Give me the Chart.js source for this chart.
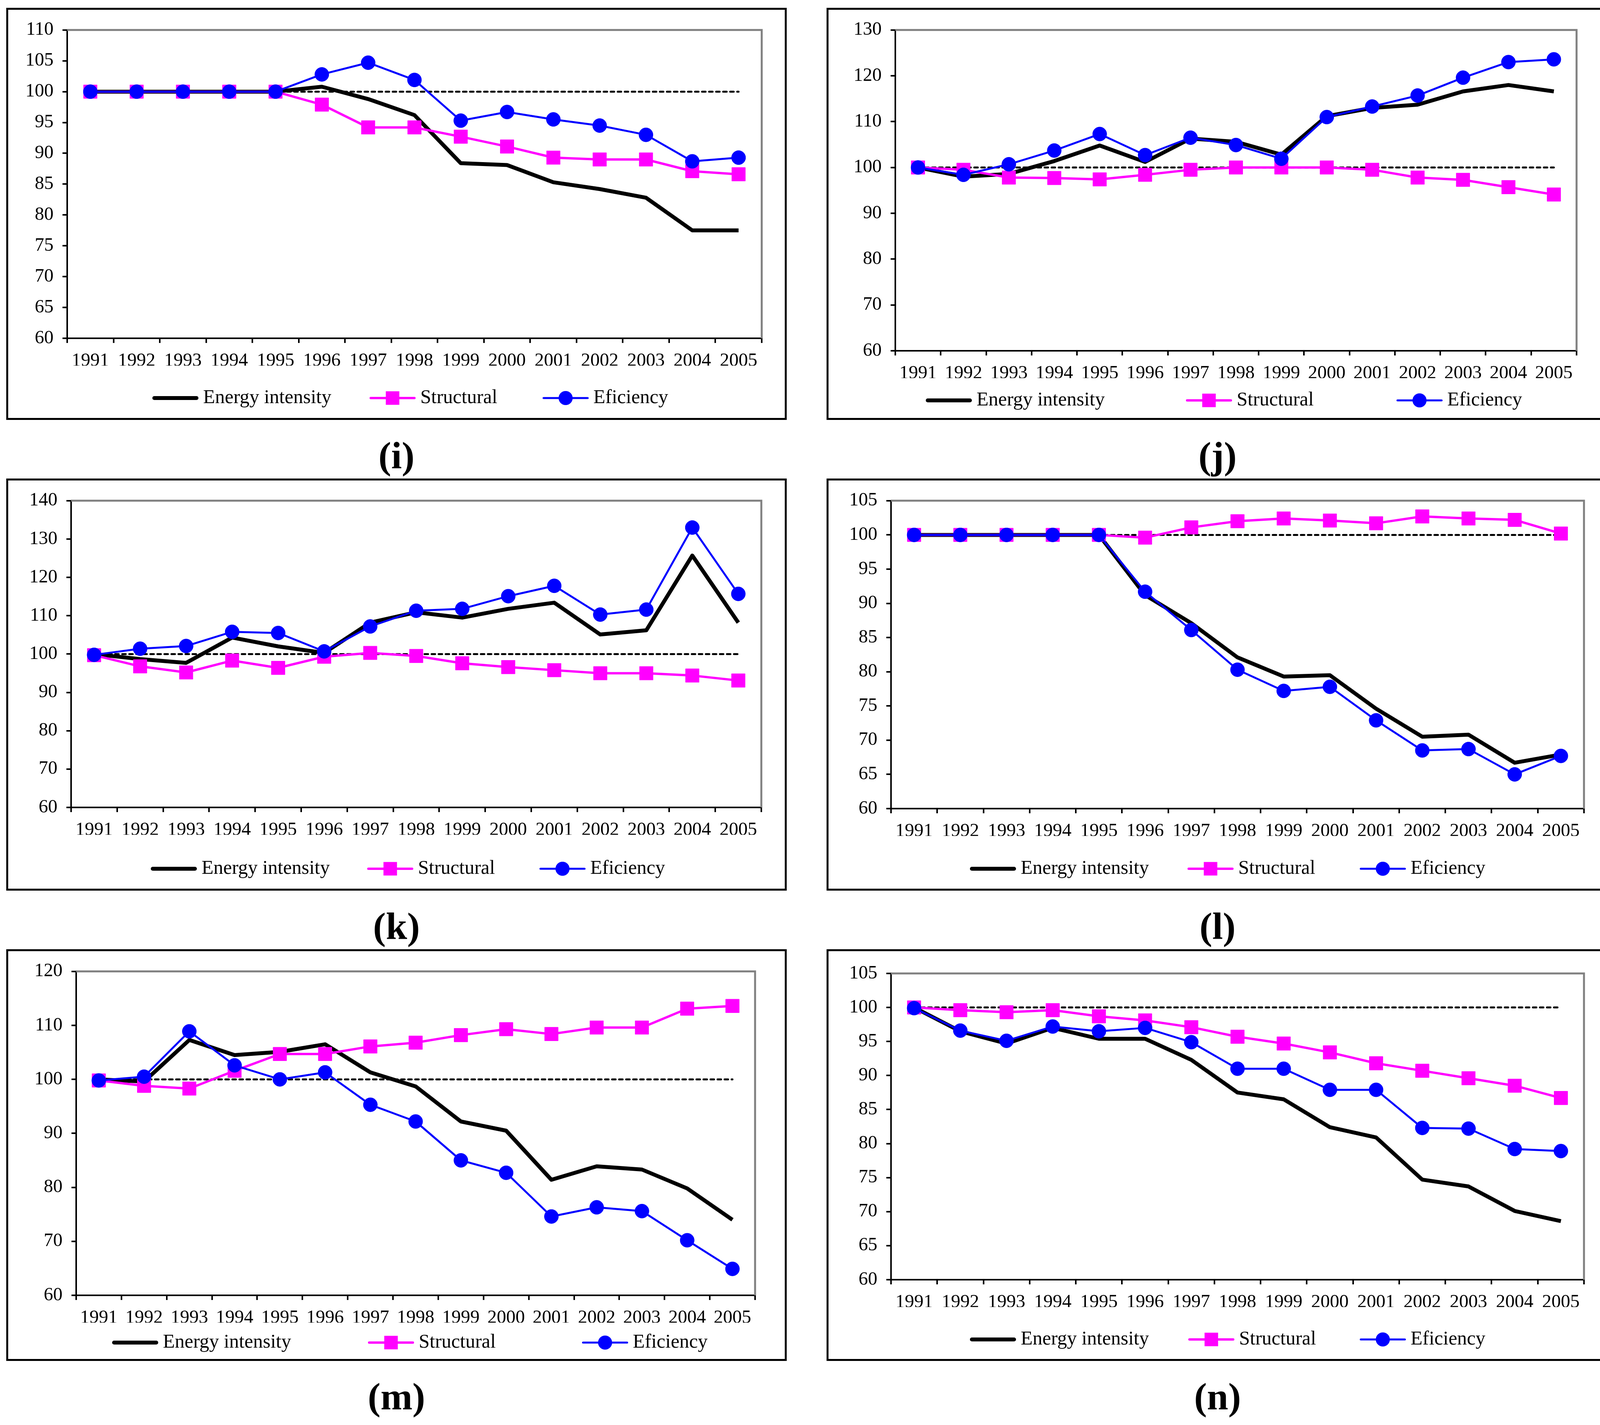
<!DOCTYPE html>
<html>
<head>
<meta charset="utf-8">
<title>Energy intensity decomposition</title>
<script src="https://cdn.jsdelivr.net/npm/chart.js@4.4.0/dist/chart.umd.min.js"></script>
<style>
  html, body { margin: 0; padding: 0; background: #fff; }
  #page { position: relative; width: 4137px; height: 3648px; overflow: hidden; background: #fff; }
  .box { position: absolute; box-sizing: border-box; border: 5px solid #000; background: #fff; }
  .box canvas { position: absolute; left: 0; top: 0; }
  .tag { position: absolute; width: 400px; text-align: center; font-family: "Liberation Serif", serif;
         font-weight: bold; font-size: 98px; line-height: 98px; color: #000; }
</style>
</head>
<body>
<div id="page"></div>
<script>
var years = ['1991', '1992', '1993', '1994', '1995', '1996', '1997', '1998', '1999', '2000', '2001', '2002', '2003', '2004', '2005'];
var seriesNames = ['Energy intensity', 'Structural', 'Eficiency'];
var baseLevel = 100;

var iEnergy     = [100, 100, 100, 100, 100, 100.8, 98.8, 96.2, 88.4, 88.1, 85.3, 84.2, 82.8, 77.5, 77.5];
var iStructural = [100, 100, 100, 100, 100, 97.9, 94.2, 94.2, 92.7, 91.1, 89.3, 89.0, 89.0, 87.1, 86.6];
var iEfficiency = [100, 100, 100, 100, 100, 102.8, 104.7, 101.9, 95.3, 96.7, 95.5, 94.5, 93.0, 88.7, 89.3];

var jEnergy     = [100, 98.0, 98.6, 101.4, 104.8, 101.2, 106.3, 105.6, 102.8, 111.2, 113.0, 113.7, 116.6, 118.0, 116.6];
var jStructural = [100, 99.5, 97.8, 97.7, 97.4, 98.4, 99.5, 100.0, 100.0, 100.0, 99.5, 97.8, 97.3, 95.7, 94.1];
var jEfficiency = [100, 98.4, 100.7, 103.7, 107.3, 102.7, 106.5, 104.9, 101.9, 111.0, 113.3, 115.7, 119.6, 123.0, 123.6];

var kEnergy     = [100, 98.7, 97.7, 104.3, 102.0, 100.3, 108.2, 110.9, 109.5, 111.8, 113.4, 105.1, 106.2, 125.7, 108.2];
var kStructural = [99.7, 96.8, 95.2, 98.3, 96.4, 99.3, 100.3, 99.5, 97.6, 96.6, 95.8, 95.0, 95.0, 94.4, 93.1];
var kEfficiency = [99.8, 101.4, 102.1, 105.8, 105.5, 100.7, 107.2, 111.3, 111.8, 115.1, 117.8, 110.3, 111.6, 133.0, 115.7];

var lEnergy     = [100, 100, 100, 100, 100, 91.2, 87.1, 82.1, 79.3, 79.5, 74.6, 70.5, 70.8, 66.7, 67.9];
var lStructural = [100, 100, 100, 100, 100, 99.6, 101.1, 102.0, 102.4, 102.1, 101.7, 102.7, 102.4, 102.2, 100.2];
var lEfficiency = [100, 100, 100, 100, 100, 91.7, 86.1, 80.3, 77.2, 77.8, 72.9, 68.5, 68.7, 65.0, 67.7];

var mEnergy     = [100, 99.6, 107.3, 104.5, 105.1, 106.5, 101.3, 98.7, 92.2, 90.5, 81.4, 83.9, 83.3, 79.8, 74.0];
var mStructural = [99.8, 98.8, 98.3, 101.6, 104.7, 104.7, 106.1, 106.8, 108.2, 109.3, 108.4, 109.6, 109.6, 113.1, 113.6];
var mEfficiency = [99.8, 100.5, 108.9, 102.6, 100.0, 101.3, 95.3, 92.2, 85.0, 82.7, 74.6, 76.3, 75.6, 70.2, 64.9];

var nEnergy     = [100, 96.5, 94.7, 97.0, 95.4, 95.4, 92.3, 87.5, 86.5, 82.4, 80.9, 74.7, 73.7, 70.1, 68.6];
var nStructural = [100, 99.6, 99.3, 99.6, 98.7, 98.1, 97.1, 95.7, 94.7, 93.4, 91.8, 90.7, 89.6, 88.5, 86.7];
var nEfficiency = [99.9, 96.6, 95.1, 97.2, 96.5, 97.0, 94.9, 91.0, 91.0, 87.9, 87.9, 82.3, 82.2, 79.2, 78.9];

// y axis ranges [min, max, step]
var iRange = [60, 110, 5];
var jRange = [60, 130, 10];
var kRange = [60, 140, 10];
var lRange = [60, 105, 5];
var mRange = [60, 120, 10];
var nRange = [60, 105, 5];

(function() {
  'use strict';

  var FONT = '"Liberation Serif", "Times New Roman", serif';
  var BORDER = 5;
  var Y_W = 110;
  var X_H = 70;
  var SAMPLE = 118;

  Chart.defaults.font.family = FONT;
  Chart.defaults.color = '#000';

  // page layout: box [x0, y0, x1, y1], plot [l, t, r, b], legend y and sample starts
  var panels = [
    { tag: '(i)', box: [16, 20, 2014, 1075], plot: [172, 64, 1950, 866], legY: 1019, legX: [390, 946, 1389],
      range: iRange, data: [iEnergy, iStructural, iEfficiency] },
    { tag: '(j)', box: [2116, 20, 4118, 1075], plot: [2292, 70, 4036, 898], legY: 1025, legX: [2370, 3036, 3575],
      range: jRange, data: [jEnergy, jStructural, jEfficiency] },
    { tag: '(k)', box: [16, 1225, 2014, 2280], plot: [182, 1275, 1949, 2067], legY: 2224, legX: [386, 940, 1381],
      range: kRange, data: [kEnergy, kStructural, kEfficiency] },
    { tag: '(l)', box: [2116, 1225, 4118, 2280], plot: [2281, 1273, 4055, 2070], legY: 2224, legX: [2483, 3040, 3481],
      range: lRange, data: [lEnergy, lStructural, lEfficiency] },
    { tag: '(m)', box: [16, 2430, 2014, 3484], plot: [195, 2466, 1933, 3316], legY: 3437, legX: [287, 942, 1490],
      range: mRange, data: [mEnergy, mStructural, mEfficiency] },
    { tag: '(n)', box: [2116, 2430, 4118, 3484], plot: [2281, 2492, 4055, 3276], legY: 3429, legX: [2483, 3042, 3481],
      range: nRange, data: [nEnergy, nStructural, nEfficiency] }
  ];

  // gray top and right border of the plot area, like the spreadsheet original
  var plotFrame = {
    id: 'plotFrame',
    beforeDatasetsDraw: function(chart) {
      var a = chart.chartArea, ctx = chart.ctx;
      ctx.save();
      ctx.strokeStyle = '#808080';
      ctx.lineWidth = 5;
      ctx.beginPath();
      ctx.moveTo(a.left, a.top);
      ctx.lineTo(a.right, a.top);
      ctx.lineTo(a.right, a.bottom);
      ctx.stroke();
      ctx.restore();
    }
  };

  // legend with line + marker samples
  var sampleLegend = {
    id: 'sampleLegend',
    afterDraw: function(chart, args, opts) {
      var ctx = chart.ctx;
      ctx.save();
      opts.xs.forEach(function(px, k) {
        var ds = chart.data.datasets[k];
        var x = px - opts.ox, y = opts.y - opts.oy;
        var half = ds.borderWidth / 2;
        ctx.strokeStyle = ds.borderColor;
        ctx.lineWidth = ds.borderWidth;
        ctx.lineCap = 'round';
        ctx.beginPath();
        ctx.moveTo(x + half, y);
        ctx.lineTo(x + SAMPLE - half, y);
        ctx.stroke();
        var cxm = x + SAMPLE / 2;
        ctx.fillStyle = ds.pointBackgroundColor;
        if (ds.pointStyle === 'rect' && ds.pointRadius > 0) {
          var s = ds.pointRadius / Math.SQRT2;
          ctx.fillRect(cxm - s, y - s, 2 * s, 2 * s);
        } else if (ds.pointStyle === 'circle' && ds.pointRadius > 0) {
          ctx.beginPath();
          ctx.arc(cxm, y, ds.pointRadius, 0, Math.PI * 2);
          ctx.fill();
        }
        ctx.fillStyle = '#000';
        ctx.font = '50px ' + FONT;
        ctx.textBaseline = 'middle';
        ctx.textAlign = 'left';
        ctx.fillText(ds.label, x + SAMPLE + 12, y);
      });
      ctx.restore();
    }
  };

  var page = document.getElementById('page');
  panels.forEach(_buildPanel);

  function _buildPanel(p) {
    var w = p.box[2] - p.box[0], h = p.box[3] - p.box[1];
    var box = document.createElement('div');
    box.className = 'box';
    box.style.left = p.box[0] + 'px';
    box.style.top = p.box[1] + 'px';
    box.style.width = w + 'px';
    box.style.height = h + 'px';
    page.appendChild(box);

    var cx = p.box[0] + BORDER, cy = p.box[1] + BORDER;
    var cw = w - 2 * BORDER, ch = h - 2 * BORDER;
    var canvas = document.createElement('canvas');
    canvas.width = cw;
    canvas.height = ch;
    canvas.style.width = cw + 'px';
    canvas.style.height = ch + 'px';
    box.appendChild(canvas);

    var tag = document.createElement('div');
    tag.className = 'tag';
    tag.textContent = p.tag;
    tag.style.left = ((p.box[0] + p.box[2]) / 2 - 200) + 'px';
    tag.style.top = (p.box[3] + 99 - 57) + 'px';
    page.appendChild(tag);

    var base = years.map(function() { return baseLevel; });

    new Chart(canvas.getContext('2d'), {
      type: 'line',
      data: {
        labels: years,
        datasets: [
          {
            label: seriesNames[0],
            data: p.data[0],
            borderColor: '#000000',
            borderWidth: 10,
            borderJoinStyle: 'round',
            pointRadius: 0,
            pointHoverRadius: 0,
            fill: false,
            order: 4
          },
          {
            label: seriesNames[1],
            data: p.data[1],
            borderColor: '#FF00FF',
            borderWidth: 6,
            borderJoinStyle: 'round',
            pointStyle: 'rect',
            pointRadius: 24.5,
            pointHoverRadius: 24.5,
            pointBackgroundColor: '#FF00FF',
            pointBorderColor: '#FF00FF',
            pointBorderWidth: 1,
            fill: false,
            order: 2
          },
          {
            label: seriesNames[2],
            data: p.data[2],
            borderColor: '#0000FF',
            borderWidth: 5,
            borderJoinStyle: 'round',
            pointStyle: 'circle',
            pointRadius: 18,
            pointHoverRadius: 18,
            pointBackgroundColor: '#0000FF',
            pointBorderColor: '#0000FF',
            pointBorderWidth: 1,
            fill: false,
            order: 1
          },
          {
            label: 'base',
            data: base,
            borderColor: '#000000',
            borderWidth: 5,
            borderDash: [9, 9],
            borderCapStyle: 'round',
            pointRadius: 0,
            pointHoverRadius: 0,
            fill: false,
            order: 3
          }
        ]
      },
      options: {
        responsive: false,
        animation: false,
        devicePixelRatio: 1,
        events: [],
        layout: {
          padding: {
            left: p.plot[0] - cx - Y_W,
            right: cx + cw - p.plot[2],
            top: p.plot[1] - cy,
            bottom: cy + ch - p.plot[3] - X_H
          }
        },
        plugins: {
          legend: { display: false },
          tooltip: { enabled: false },
          sampleLegend: { xs: p.legX, y: p.legY, ox: cx, oy: cy }
        },
        scales: {
          x: {
            offset: true,
            grid: { offset: true, drawOnChartArea: false, drawTicks: true, tickLength: 12, color: '#000', lineWidth: 4 },
            border: { display: true, color: '#000', width: 4 },
            ticks: { color: '#000', font: { size: 48 }, padding: 18, maxRotation: 0, autoSkip: false },
            afterFit: function(scale) { scale.height = X_H; }
          },
          y: {
            min: p.range[0],
            max: p.range[1],
            grid: { drawOnChartArea: false, drawTicks: true, tickLength: 12, color: '#000', lineWidth: 4 },
            border: { display: true, color: '#000', width: 4 },
            ticks: { stepSize: p.range[2], color: '#000', font: { size: 48 }, padding: 23 },
            afterFit: function(scale) { scale.width = Y_W; }
          }
        }
      },
      plugins: [plotFrame, sampleLegend]
    });
  }
})();
</script>
</body>
</html>
